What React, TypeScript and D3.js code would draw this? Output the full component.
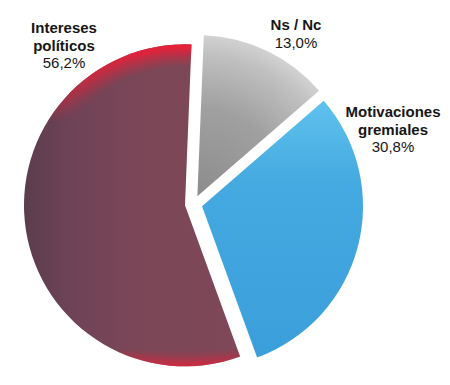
import React from "react";
import * as d3 from "d3";

const categories = ["Ns / Nc", "Motivaciones gremiales", "Intereses políticos"];
const values = [13.0, 30.8, 56.2];
const labelLines = [["Ns / Nc"], ["Motivaciones", "gremiales"], ["Intereses", "políticos"]];
const pctLabels = ["13,0%", "30,8%", "56,2%"];
const keys = ["gray", "blue", "maroon"];

const W = 450;
const H = 385;
const CX = 193.6;
const CY = 204;
const R = 161;
const EXPLODE = 8.7;
const START = (2.3 * Math.PI) / 180;

const labelPos = [
  { x: 296, y: 30 },
  { x: 393, y: 117 },
  { x: 64, y: 33 },
];

export default function App() {
  const pie = d3
    .pie<number>()
    .sort(null)
    .value((d) => d)
    .startAngle(START)
    .endAngle(START + 2 * Math.PI);
  const arcs = pie(values);
  const arcGen = d3.arc<d3.PieArcDatum<number>>().innerRadius(0).outerRadius(R);

  const slices = arcs.map((a, i) => {
    const mid = (a.startAngle + a.endAngle) / 2;
    const ox = CX + Math.sin(mid) * EXPLODE;
    const oy = CY - Math.cos(mid) * EXPLODE;
    return { a, i, ox, oy, path: arcGen(a) as string };
  });

  const m = slices[2];
  const g = slices[0];
  const b = slices[1];

  return (
    <svg
      width={W}
      height={H}
      style={{ position: "absolute", left: 0, top: 0, background: "#fff" }}
      fontFamily="'Liberation Sans', Arial, Helvetica, sans-serif"
    >
      <defs>
        <linearGradient id="maroonBase" x1="0" y1="0" x2="1" y2="0">
          <stop offset="0" stopColor="#5b3d4d" />
          <stop offset="0.22" stopColor="#6f4357" />
          <stop offset="0.55" stopColor="#7b4757" />
          <stop offset="1" stopColor="#7f4758" />
        </linearGradient>
        <radialGradient id="maroonRim" gradientUnits="userSpaceOnUse" cx={0} cy={0} r={R}>
          <stop offset="0.86" stopColor="#e8203c" stopOpacity="0" />
          <stop offset="0.975" stopColor="#ec1f38" stopOpacity="0.95" />
          <stop offset="1" stopColor="#ec1f38" stopOpacity="1" />
        </radialGradient>
        <linearGradient id="rimMaskGrad" gradientUnits="userSpaceOnUse" x1="0" y1="40" x2="0" y2="372">
          <stop offset="0" stopColor="#fff" />
          <stop offset="0.1" stopColor="#fff" stopOpacity="0.7" />
          <stop offset="0.25" stopColor="#000" />
          <stop offset="0.93" stopColor="#000" />
          <stop offset="1" stopColor="#fff" />
        </linearGradient>
        <mask id="rimMask" maskUnits="userSpaceOnUse" x="0" y="0" width={W} height={H}>
          <rect x="0" y="0" width={W} height={H} fill="url(#rimMaskGrad)" />
        </mask>
        <linearGradient
          id="blueGrad"
          gradientUnits="userSpaceOnUse"
          x1="0"
          y1={100 - b.oy}
          x2="0"
          y2={365 - b.oy}
        >
          <stop offset="0" stopColor="#5fc2ef" />
          <stop offset="0.3" stopColor="#45aae0" />
          <stop offset="1" stopColor="#3a9edb" />
        </linearGradient>
        <radialGradient id="grayGrad" gradientUnits="userSpaceOnUse" cx={0} cy={0} r={R}>
          <stop offset="0" stopColor="#8c8c8c" />
          <stop offset="0.55" stopColor="#a0a0a0" />
          <stop offset="0.88" stopColor="#c0c0c0" />
          <stop offset="1" stopColor="#d2d2d2" />
        </radialGradient>
      </defs>

      <g transform={`translate(${g.ox},${g.oy})`}>
        <path d={g.path} fill="url(#grayGrad)" />
      </g>
      <g transform={`translate(${b.ox},${b.oy})`}>
        <path d={b.path} fill="url(#blueGrad)" />
      </g>
      <g transform={`translate(${m.ox},${m.oy})`}>
        <path d={m.path} fill="url(#maroonBase)" />
      </g>
      <g mask="url(#rimMask)">
        <g transform={`translate(${m.ox},${m.oy})`}>
          <path d={m.path} fill="url(#maroonRim)" />
        </g>
      </g>

      {categories.map((c, i) => {
        const p = labelPos[i];
        const lines = labelLines[i];
        return (
          <g key={keys[i]} fill="#161616" textAnchor="middle" fontSize={15}>
            {lines.map((l, j) => (
              <text key={j} x={p.x} y={p.y + j * 18} fontWeight="bold">
                {l}
              </text>
            ))}
            <text x={p.x} y={p.y + lines.length * 17.5}>
              {pctLabels[i]}
            </text>
          </g>
        );
      })}
    </svg>
  );
}
